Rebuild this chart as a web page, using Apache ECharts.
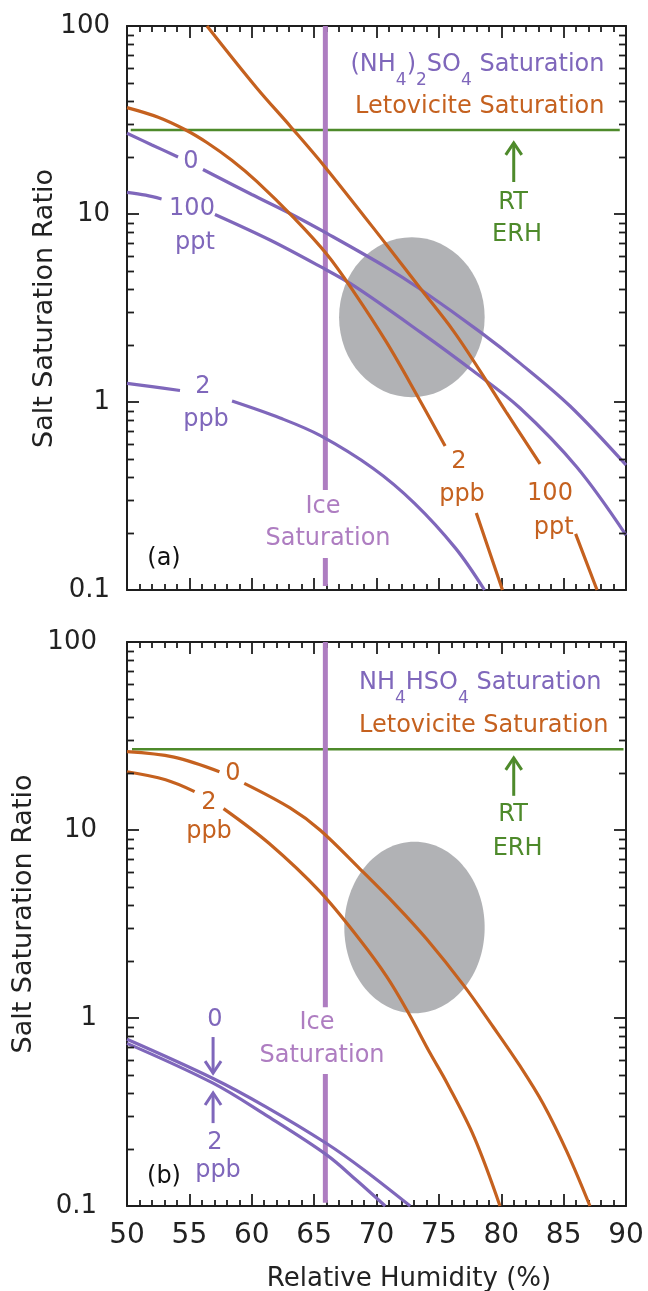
<!DOCTYPE html>
<html><head><meta charset="utf-8">
<script src="https://cdn.jsdelivr.net/npm/echarts@6/dist/echarts.min.js"></script>
<style>html,body{margin:0;padding:0;background:#fff}#c{width:648px;height:1291px}</style>
</head><body><div id="c"></div>
<script>
// ---------- data ----------
const xTickLabels = ['50','55','60','65','70','75','80','85','90'];
const yTickLabels = ['0.1','1','10','100'];
const minorLogTicks = [0.2,0.3,0.4,0.5,0.6,0.7,0.8,0.9,2,3,4,5,6,7,8,9,20,30,40,50,60,70,80,90];

// Panel (a)  [RH %, salt saturation ratio]; null = gap behind a curve label
const aAmSulf0 = [[50,26.9],[52,23.3],[54.09,20.1],null,[56.09,17.25],[60,12.7],[63.07,10.06],[66.03,7.88],[70.82,5.19],[73.49,3.99],[78.3,2.36],[81.5,1.61],[85.51,0.952],[90,0.462]];
const aAmSulf100ppt = [[50,13.04],[51.5,12.6],[52.77,12.02],null,[57.05,9.94],[61.46,7.27],[65.47,5.26],[68.14,4.17],[73.49,2.36],[77.76,1.46],[81.5,0.929],[86.05,0.451],[90,0.196]];
const aAmSulf2ppb = [[50,1.257],[52,1.206],[54.25,1.151],null,[58.42,1.012],[62.27,0.822],[65.47,0.664],[69.74,0.443],[73.03,0.29],[76.33,0.167],[78.66,0.1]];
const aLet100ppt = [[56.41,100],[60.4,46.8],[63.07,29.4],[65.87,17.8],[70.82,6.84],[73.49,4.04],[76.16,2.39],[78.31,1.46],[80.44,0.874],[83.11,0.468],null,[85.96,0.199],[87.68,0.1]];
const aLet2ppb = [[50,36.8],[52.5,32.7],[54.75,27.9],[56.4,24.0],[58.4,19.3],[60.4,14.9],[63.4,9.5],[66,6.12],[68.14,3.89],[70.8,2.08],[73.2,1.10],[75.5,0.583],null,[78,0.257],[80.1,0.1]];
const aErh = [[50.3,28.0],[89.5,28.0]];
const aIce = [[65.9,100],[65.9,0.34],null,[65.9,0.148],[65.9,0.105]];
const aEllipse = [[67.0,78.67,1.06,7.52]];      // RH left, RH right, ratio bottom, ratio top
const aArrow = [[81,14.8,23.9]];                // RH, tail, tip

// Panel (b)
const bBisulf0 = [[50,0.771],[56.9,0.477],[61.1,0.338],[66,0.215],[69.03,0.155],[72.7,0.1]];
const bBisulf2ppb = [[50,0.733],[56.9,0.45],[61.1,0.305],[66,0.187],[68.4,0.137],[70.7,0.1]];
const bLet0 = [[50,26.1],[53.77,24.4],[57.41,20.4],null,[59.4,17.7],[63.07,13.1],[65.47,10.0],[68.68,6.2],[71.62,3.94],[74.02,2.63],[76.96,1.5],[79.36,0.896],[81.5,0.556],[83.37,0.349],[85.27,0.194],[87.11,0.1]];
const bLet2ppb = [[50,20.4],[53.09,18.5],[55.42,16.0],null,[57.74,13.0],[61.38,8.5],[65.47,4.7],[68.68,2.6],[70.82,1.66],[72.52,1.076],[74.29,0.651],[75.65,0.451],[77.82,0.233],[79.9,0.1]];
const bErh = [[50.4,26.9],[89.8,26.9]];
const bIce = [[65.9,100],[65.9,1.14],null,[65.9,0.503],[65.9,0.104]];
const bEllipse = [[67.42,78.67,1.06,8.67]];
const bArrows = [[81,15.2,24.2]];
const bBisulfArrows = [[56.9,0.792,0.509],[56.9,0.276,0.399]];

// ---------- styles ----------
const FONT = 'DejaVu Sans';
const PURPLE = '#7f67bb', ICE = '#ae7dc1', ORANGE = '#c5611f', GREEN = '#4e8a2b', GRAY = '#b1b2b5', AX = '#1e1e1e';

const chart = echarts.init(document.getElementById('c'), null, {renderer:'canvas'});

function xAx(grid, pos, labels) {
  return {
    type:'value', gridIndex:grid, position:pos, min:50, max:90, interval:5,
    axisLine:{show:true, onZero:false, lineStyle:{color:AX, width:2}},
    axisTick:{show:true, inside:true, length:12, lineStyle:{color:AX, width:1.8}},
    minorTick:{show:true, splitNumber:5, length:6, lineStyle:{color:AX, width:1.8}},
    splitLine:{show:false}, minorSplitLine:{show:false},
    axisLabel:{show:labels, fontFamily:FONT, fontSize:28, color:'#222', margin:16,
      formatter:v => xTickLabels.find(t => +t === Math.round(v)) || ''}
  };
}
function yAx(grid, pos, labels, margin) {
  return {
    type:'log', logBase:10, gridIndex:grid, position:pos, min:0.1, max:100,
    axisLine:{show:true, onZero:false, lineStyle:{color:AX, width:2}},
    axisTick:{show:true, inside:true, length:12, lineStyle:{color:AX, width:1.8}},
    splitLine:{show:false},
    axisLabel:{show:labels, fontFamily:FONT, fontSize:26, color:'#222', margin:margin, padding:[0,0,8,0],
      showMinLabel:true, showMaxLabel:true,
      formatter:v => yTickLabels.find(t => Math.abs(Math.log10(+t) - Math.log10(v)) < 1e-6) || ''}
  };
}

function line(xi, yi, data, color, width, z) {
  return {type:'line', xAxisIndex:xi, yAxisIndex:yi, data:data, symbol:'none', silent:true,
    smooth:0.35, connectNulls:false, z:z||3,
    lineStyle:{color:color, width:width}, animation:false};
}
function ellipse(xi, yi, data) {
  return {type:'custom', xAxisIndex:xi, yAxisIndex:yi, data:data, silent:true, z:1,
    encode:{x:[0,1], y:[2,3]},
    renderItem:(params, api) => {
      const pl = api.coord([api.value(0), api.value(2)]);
      const pr = api.coord([api.value(1), api.value(3)]);
      return {type:'ellipse', shape:{cx:(pl[0]+pr[0])/2, cy:(pl[1]+pr[1])/2, rx:(pr[0]-pl[0])/2, ry:(pl[1]-pr[1])/2},
        style:{fill:GRAY}};
    }};
}
function arrows(xi, yi, data, color) {
  return {type:'custom', xAxisIndex:xi, yAxisIndex:yi, data:data, silent:true, z:5,
    encode:{x:0, y:[1,2]},
    renderItem:(params, api) => {
      const t = api.coord([api.value(0), api.value(1)]);
      const h = api.coord([api.value(0), api.value(2)]);
      const d = h[1] < t[1] ? 1 : -1;
      return {type:'group', children:[
        {type:'line', shape:{x1:t[0], y1:t[1], x2:h[0], y2:h[1]}, style:{stroke:color, lineWidth:3}},
        {type:'polyline', shape:{points:[[h[0]-8, h[1]+d*12],[h[0], h[1]],[h[0]+8, h[1]+d*12]]},
          style:{stroke:color, lineWidth:3, fill:null}}
      ]};
    }};
}
function minorTicks(xi, yi) {
  return {type:'custom', xAxisIndex:xi, yAxisIndex:yi, data:minorLogTicks.map(v => [50, v]), silent:true, z:6,
    renderItem:(params, api) => {
      const p = api.coord([api.value(0), api.value(1)]);
      const cs = params.coordSys;
      const y = Math.round(p[1]) + 0.5;
      return {type:'group', children:[
        {type:'line', shape:{x1:cs.x, y1:y, x2:cs.x+7, y2:y}, style:{stroke:AX, lineWidth:1.8}},
        {type:'line', shape:{x1:cs.x+cs.width-7, y1:y, x2:cs.x+cs.width, y2:y}, style:{stroke:AX, lineWidth:1.8}}
      ]};
    }};
}

function T(x, y, text, color, extra) {
  return {type:'text', x:x, y:y, silent:true, z:20,
    style:Object.assign({text:text, fill:color, fontFamily:FONT, fontSize:24, align:'center', verticalAlign:'middle',
      textAlign:'center', textVerticalAlign:'middle'}, extra || {})};
}
const subStyle = {fontFamily:FONT, fontSize:17, padding:[32,0,0,0], verticalAlign:'middle', fill:PURPLE};

const graphics = [
  // panel (a)
  T(604.5, 65, '(NH{s|4}){s|2}SO{s|4} Saturation', PURPLE, {align:'right', textAlign:'right', rich:{s:subStyle}}),
  T(604.5, 107, 'Letovicite Saturation', ORANGE, {align:'right', textAlign:'right'}),
  T(191, 162, '0', PURPLE),
  T(192, 209, '100', PURPLE), T(195, 243, 'ppt', PURPLE),
  T(203, 387, '2', PURPLE), T(206, 420, 'ppb', PURPLE),
  T(323, 507, 'Ice', ICE), T(328, 539, 'Saturation', ICE),
  T(459, 462, '2', ORANGE), T(462, 495, 'ppb', ORANGE),
  T(550, 494, '100', ORANGE), T(553.6, 528, 'ppt', ORANGE),
  T(164, 559, '(a)', '#111'),
  T(513, 203, 'RT', GREEN), T(517, 235, 'ERH', GREEN),
  // panel (b)
  T(359, 683, 'NH{s|4}HSO{s|4} Saturation', PURPLE, {align:'left', textAlign:'left', rich:{s:subStyle}}),
  T(359, 726, 'Letovicite Saturation', ORANGE, {align:'left', textAlign:'left'}),
  T(513, 815, 'RT', GREEN), T(517.6, 849, 'ERH', GREEN),
  T(233, 774, '0', ORANGE),
  T(209, 803, '2', ORANGE), T(209, 832, 'ppb', ORANGE),
  T(317, 1023, 'Ice', ICE), T(322, 1056, 'Saturation', ICE),
  T(215, 1020, '0', PURPLE),
  T(215, 1143, '2', PURPLE), T(218, 1171, 'ppb', PURPLE),
  T(164, 1177, '(b)', '#111'),
  // axis titles
  {type:'text', x:44.5, y:308.5, rotation:Math.PI/2, silent:true,
    style:{text:'Salt Saturation Ratio', fill:'#222', fontFamily:FONT, fontSize:27, align:'center', verticalAlign:'middle', textAlign:'center', textVerticalAlign:'middle'}},
  {type:'text', x:24, y:914, rotation:Math.PI/2, silent:true,
    style:{text:'Salt Saturation Ratio', fill:'#222', fontFamily:FONT, fontSize:27, align:'center', verticalAlign:'middle', textAlign:'center', textVerticalAlign:'middle'}},
  {type:'text', x:409, y:1279, silent:true,
    style:{text:'Relative Humidity (%)', fill:'#222', fontFamily:FONT, fontSize:26, align:'center', verticalAlign:'middle', textAlign:'center', textVerticalAlign:'middle'}}
];

const option = {
  animation:false,
  backgroundColor:'#fff',
  grid:[
    {left:127, top:26, width:499, height:564},
    {left:127, top:642, width:499, height:564}
  ],
  xAxis:[xAx(0,'bottom',false), xAx(0,'top',false), xAx(1,'bottom',true), xAx(1,'top',false)],
  yAxis:[yAx(0,'left',true,17), yAx(0,'right',false,0), yAx(1,'left',true,30), yAx(1,'right',false,0)],
  series:[
    ellipse(0,0,aEllipse),
    line(0,0,aErh,GREEN,2.6,2),
    line(0,0,aIce,ICE,5,2),
    line(0,0,aAmSulf0,PURPLE,3.2),
    line(0,0,aAmSulf100ppt,PURPLE,3.2),
    line(0,0,aAmSulf2ppb,PURPLE,3.2),
    line(0,0,aLet100ppt,ORANGE,3.2,4),
    line(0,0,aLet2ppb,ORANGE,3.2,4),
    arrows(0,0,aArrow,GREEN),
    minorTicks(0,0),

    ellipse(2,2,bEllipse),
    line(2,2,bErh,GREEN,2.6,2),
    line(2,2,bIce,ICE,5,2),
    line(2,2,bBisulf0,PURPLE,3.2),
    line(2,2,bBisulf2ppb,PURPLE,3.2),
    line(2,2,bLet0,ORANGE,3.2,4),
    line(2,2,bLet2ppb,ORANGE,3.2,4),
    arrows(2,2,bArrows,GREEN),
    arrows(2,2,bBisulfArrows,PURPLE),
    minorTicks(2,2)
  ],
  graphic:graphics
};
chart.setOption(option);
</script></body></html>
